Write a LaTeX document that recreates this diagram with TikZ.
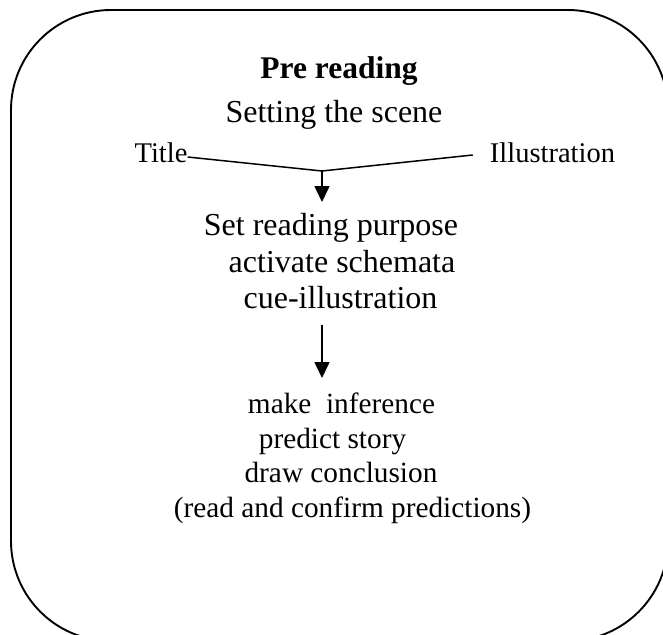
\documentclass[tikz,border=0pt]{standalone}
\usepackage{fontspec}
\setmainfont{Liberation Serif}
\usetikzlibrary{arrows.meta}

\begin{document}
\begin{tikzpicture}[x=1pt,y=-1pt,
  txt/.style={inner sep=0pt, anchor=base},
  headtxt/.style={txt, font=\bfseries\fontsize{31.5}{36}\selectfont},
  bigtxt/.style={txt, font=\fontsize{32}{36}\selectfont},
  midtxt/.style={txt, font=\fontsize{29.3}{34}\selectfont},
  sidetxt/.style={txt, font=\fontsize{28.5}{32}\selectfont},
  frame/.style={line width=1.9pt, rounded corners=100pt},
  link/.style={line width=1.5pt, line join=miter},
  flow/.style={line width=1.6pt, -{Triangle[length=16pt,width=15pt]}}]
\useasboundingbox (0,0) rectangle (663,634);

% outer rounded frame, running past the right and bottom edges
\begin{scope}
  \clip (0,0) rectangle (663,634);
  \draw[frame] (11,10) rectangle (668,641);
\end{scope}

% heading
\node[headtxt] (head)  at (339,78)  {Pre reading};
\node[bigtxt]  (scene) at (334,122) {Setting the scene};

% the two sources joined into one
\node[sidetxt] (title) at (161,162)   {Title};
\node[sidetxt] (illus) at (552.5,162) {Illustration};
\coordinate (tl)   at ([yshift=5pt]title.base east);
\coordinate (il)   at ([xshift=-17pt,yshift=7pt]illus.base west);
\coordinate (join) at (322,171);
\draw[link] (tl) -- (join) -- (il);

% purpose block
\node[bigtxt] (purpose) at (331,235)   {Set reading purpose};
\node[bigtxt] (schema)  at (342,272)   {activate schemata};
\node[bigtxt] (cue)     at (340.5,308) {cue-illustration};
\coordinate (purposetop) at (322,202);
\draw[flow] (join) -- (purposetop);

% prediction block
\node[midtxt] (infer)   at (341.5,413) {make\ \ inference};
\node[midtxt] (story)   at (332.5,448) {predict story};
\node[midtxt] (concl)   at (341,482)   {draw conclusion};
\node[midtxt] (confirm) at (352.5,517) {(read and confirm predictions)};
\coordinate (cuebelow) at (322,325);
\coordinate (infertop) at (322,378);
\draw[flow] (cuebelow) -- (infertop);
\end{tikzpicture}
\end{document}
